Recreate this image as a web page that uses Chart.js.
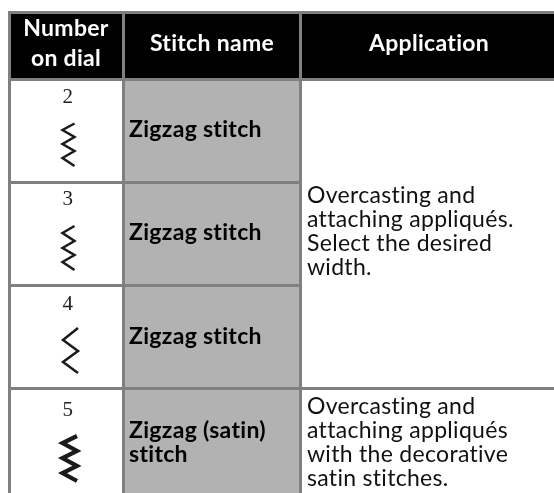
<!DOCTYPE html>
<html><head><meta charset="utf-8">
<style>html,body{margin:0;padding:0;background:#fff}canvas{display:block}</style>
<script src="https://cdn.jsdelivr.net/npm/chart.js@4/dist/chart.umd.min.js"></script>
</head><body><canvas id="c" width="554" height="493"></canvas>
<script>
// table rulings (in image units)
const columnEdges = [9.5, 123.5, 300.5];
const rowEdges = [12.5, 79.5, 388.5];
const innerRowEdges = [182.5, 285.5];
const innerRowSpan = [9, 301];
const headers = ["Number\non dial", "Stitch name", "Application"];
const dialNumbers = ["2", "3", "4", "5"];
const stitchNames = ["Zigzag stitch", "Zigzag stitch", "Zigzag stitch", "Zigzag (satin)\nstitch"];
const applications = ["Overcasting and\nattaching appliqués.\nSelect the desired\nwidth.", "Overcasting and\nattaching appliqués\nwith the decorative\nsatin stitches."];
// stitch glyph traces
const stitch2X = [74.5, 62.5, 74.5, 62.5, 74.5, 62.5, 74.5];
const stitch2Y = [123.5, 130, 137, 144, 151, 158, 166];
const stitch3X = [74.5, 62.5, 74.5, 62.5, 74.5, 62.5, 74.5];
const stitch3Y = [226, 233, 241, 248, 255, 262, 270];
const stitch4X = [78, 63, 78, 63, 78];
const stitch4Y = [328, 340, 351, 362, 373];
const stitch5X = [77, 62.5, 77, 62.5, 77, 62.5, 77];
const stitch5Y = [436, 443, 451, 458, 466, 473, 481];

const pts = (xs, ys) => xs.map((x, i) => ({x, y: ys[i]}));
const SANS = 'Lato, sans-serif';
const stitchSet = (xs, ys, w) => ({data: pts(xs, ys), borderColor: '#1a1a1a', borderWidth: w, pointRadius: 0, tension: 0, borderJoinStyle: 'miter', fill: false});
const ruleSet = v => ({data: pts(innerRowSpan, [v, v]), borderColor: '#808080', borderWidth: 3, pointRadius: 0, fill: false});

const textPlugin = {
  id: 'cells',
  afterDatasetsDraw(chart) {
    const {ctx, scales: {x, y}} = chart;
    const put = (txt, px, py, lh, font, color, align) => {
      ctx.save();
      ctx.font = font; ctx.fillStyle = color; ctx.textAlign = align; ctx.textBaseline = 'alphabetic';
      ctx.letterSpacing = '0.3px';
      txt.split('\n').forEach((t, i) => ctx.fillText(t, x.getPixelForValue(px), y.getPixelForValue(py + i * lh)));
      ctx.restore();
    };
    const hdr = 'bold 23px ' + SANS, name = 'bold 23px ' + SANS, body = '23px ' + SANS, dig = '21px "Liberation Serif"';
    put(headers[0], 66, 36, 30, hdr, '#fff', 'center');
    put(headers[1], 212, 51, 0, hdr, '#fff', 'center');
    put(headers[2], 429, 51, 0, hdr, '#fff', 'center');
    [103, 205, 310, 416].forEach((b, i) => put(dialNumbers[i], 68, b, 0, dig, '#222', 'center'));
    [137, 240, 344, 438].forEach((b, i) => put(stitchNames[i], 129, b, 24, name, '#000', 'left'));
    put(applications[0], 307, 203, 24, body, '#111', 'left');
    put(applications[1], 307, 414, 24, body, '#111', 'left');
  }
};

new Chart(document.getElementById('c'), {
  type: 'line',
  data: {datasets: [
    stitchSet(stitch2X, stitch2Y, 2.5),
    stitchSet(stitch3X, stitch3Y, 2.5),
    stitchSet(stitch4X, stitch4Y, 2.5),
    stitchSet(stitch5X, stitch5Y, 4.2),
    ruleSet(innerRowEdges[0]),
    ruleSet(innerRowEdges[1]),
    {data: pts([124, 300], [80, 80]), fill: {value: 493}, backgroundColor: '#b2b2b2', borderWidth: 0, pointRadius: 0},
    {data: pts([9, 554], [12, 12]), fill: {value: 80}, backgroundColor: '#000', borderWidth: 0, pointRadius: 0}
  ]},
  options: {
    responsive: false, animation: false,
    layout: {padding: {left: 8, top: 11, right: 0, bottom: 0}},
    plugins: {legend: {display: false}, tooltip: {enabled: false}},
    scales: {
      x: {type: 'linear', min: 8, max: 554,
        afterBuildTicks: s => { s.ticks = columnEdges.map(value => ({value})); },
        ticks: {display: false}, border: {display: false},
        grid: {color: '#808080', lineWidth: 3, drawTicks: false, tickLength: 0, z: 1}},
      y: {type: 'linear', reverse: true, min: 11, max: 493,
        afterBuildTicks: s => { s.ticks = rowEdges.map(value => ({value})); },
        ticks: {display: false}, border: {display: false},
        grid: {color: '#808080', lineWidth: 3, drawTicks: false, tickLength: 0, z: 1}}
    }
  },
  plugins: [textPlugin]
});
</script></body></html>
